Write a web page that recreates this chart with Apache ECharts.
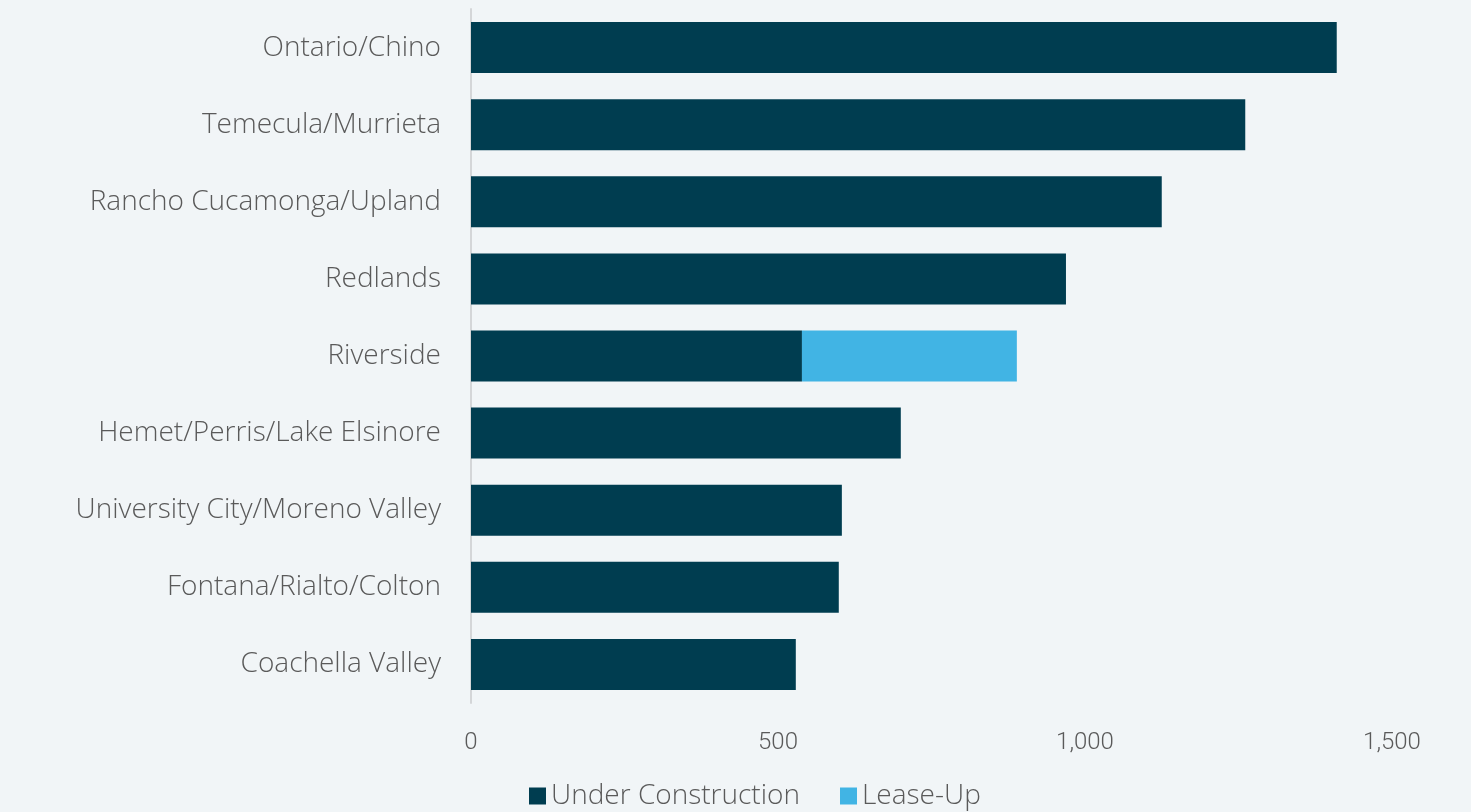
<!DOCTYPE html>
<html>
<head>
  <meta charset="UTF-8">
  <title>Pipeline by Submarket</title>
  <script src="https://cdn.jsdelivr.net/npm/echarts@6/dist/echarts.min.js"></script>
  <style>
    body { margin: 0; padding: 0; background: #f1f5f7; }
    #chart { width: 1471px; height: 812px; }
  </style>
</head>
<body>
  <div id="chart"></div>
  <script>
    // categories listed bottom to top (category axis starts at the bottom)
    var submarkets = ['Coachella Valley', 'Fontana/Rialto/Colton', 'University City/Moreno Valley',
      'Hemet/Perris/Lake Elsinore', 'Riverside', 'Redlands', 'Rancho Cucamonga/Upland',
      'Temecula/Murrieta', 'Ontario/Chino'];
    var underConstruction = [529, 599, 604, 700, 539, 969, 1125, 1261, 1410];
    var leaseUp = [0, 0, 0, 0, 350, 0, 0, 0, 0];
    var xTicks = [0, 500, 1000, 1500];

    var chart = echarts.init(document.getElementById('chart'), null, { renderer: 'canvas' });
    var labelFont = '"Open Sans", Roboto, sans-serif';
    var tickFont = 'Roboto, "Open Sans", sans-serif';

    chart.setOption({
      backgroundColor: '#f1f5f7',
      animation: false,
      grid: { left: 471, right: 79, top: 9, bottom: 109 },
      legend: {
        bottom: -3,
        left: 524,
        itemWidth: 17,
        itemHeight: 17,
        itemGap: 40,
        icon: 'rect',
        textStyle: { color: '#5a5a5a', fontSize: 28, fontFamily: labelFont, fontWeight: 300 },
        data: ['Under Construction', 'Lease-Up']
      },
      xAxis: {
        type: 'value',
        min: xTicks[0],
        max: xTicks[xTicks.length - 1],
        interval: 500,
        axisLine: { show: false },
        axisTick: { show: false },
        splitLine: { show: false },
        axisLabel: {
          color: '#5a5a5a', fontSize: 24, fontFamily: tickFont, fontWeight: 300, margin: 28,
          formatter: function (v) { return v.toLocaleString('en-US'); }
        }
      },
      yAxis: {
        type: 'category',
        data: submarkets,
        axisLine: { show: true, lineStyle: { color: '#d4d6d8', width: 2 } },
        axisTick: { show: false },
        axisLabel: { color: '#5a5a5a', fontSize: 28, fontFamily: labelFont, fontWeight: 300, margin: 30 }
      },
      series: [
        {
          name: 'Under Construction',
          type: 'bar',
          stack: 'total',
          barWidth: 51,
          itemStyle: { color: '#003d50' },
          data: underConstruction
        },
        {
          name: 'Lease-Up',
          type: 'bar',
          stack: 'total',
          barWidth: 51,
          itemStyle: { color: '#41b4e4' },
          data: leaseUp
        }
      ]
    });
  </script>
</body>
</html>
